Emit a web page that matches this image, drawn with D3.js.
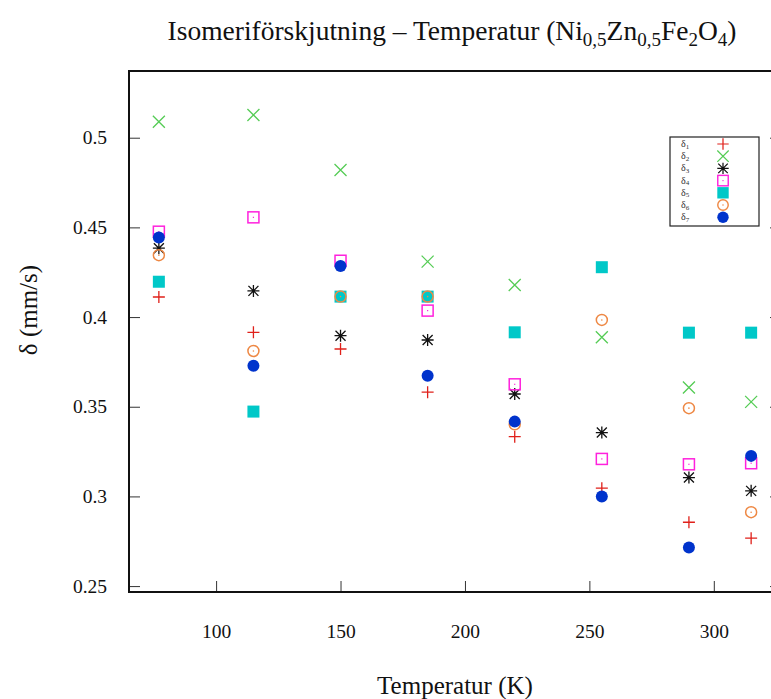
<!DOCTYPE html>
<html><head><meta charset="utf-8">
<script src="https://d3js.org/d3.v7.min.js"></script>
<style>body{margin:0;background:#fff}svg{display:block}</style>
</head><body>
<svg id="c" width="771" height="699"></svg>
<script>
const temps = [77, 115, 150, 185, 220, 255, 290, 315];
const d1 = [0.4112, 0.3915, 0.3822, 0.3581, 0.3333, 0.3046, 0.2856, 0.2767];
const d2 = [0.5089, 0.5127, 0.4820, 0.4309, 0.4179, 0.3887, 0.3607, 0.3527];
const d3v = [0.4384, 0.4146, 0.3896, 0.3872, 0.3571, 0.3356, 0.3105, 0.3031];
const d4 = [0.4476, 0.4556, 0.4314, 0.4036, 0.3625, 0.3209, 0.3179, 0.3185];
const d5 = [0.4197, 0.3473, 0.4114, 0.4114, 0.3915, 0.4278, 0.3913, 0.3913];
const d6 = [0.4345, 0.3811, 0.4114, 0.4114, 0.3402, 0.3984, 0.3492, 0.2912];
const d7 = [0.4443, 0.3729, 0.4285, 0.3673, 0.3417, 0.2999, 0.2715, 0.3226];
const seriesNames = ["1","2","3","4","5","6","7"];
const xTicks = [100, 150, 200, 250, 300];
const yTicks = [0.25, 0.3, 0.35, 0.4, 0.45, 0.5];

const series = [
  {name: seriesNames[0], vals: d1, sym: "plus",   color: "#e0201a"},
  {name: seriesNames[1], vals: d2, sym: "cross",  color: "#55cc55"},
  {name: seriesNames[2], vals: d3v, sym: "star",  color: "#111111"},
  {name: seriesNames[3], vals: d4, sym: "square", color: "#ff22dd"},
  {name: seriesNames[4], vals: d5, sym: "fsquare",color: "#00c8c8"},
  {name: seriesNames[5], vals: d6, sym: "circle", color: "#ee8844"},
  {name: seriesNames[6], vals: d7, sym: "fcircle",color: "#0033cc"}
];

const svg = d3.select("#c");
const L = 129, T = 71, B = 592, R = 781;
const x = d3.scaleLinear().domain([65, 327]).range([L, R]);
const y = d3.scaleLinear().domain([0.2467, 0.5372]).range([B, T]);
const serif = "'Liberation Serif','Times New Roman',serif";

// ticks
const gl = svg.append("g").attr("transform", `translate(${L},0)`)
  .call(d3.axisLeft(y).tickValues(yTicks).tickSizeInner(-11).tickSizeOuter(0).tickPadding(22).tickFormat(d3.format("")));
const gr = svg.append("g").attr("transform", `translate(${R},0)`)
  .call(d3.axisRight(y).tickValues(yTicks).tickSizeInner(-11).tickSizeOuter(0).tickFormat(""));
const gb = svg.append("g").attr("transform", `translate(0,${B})`)
  .call(d3.axisBottom(x).tickValues(xTicks).tickSizeInner(-11).tickSizeOuter(0).tickPadding(32));
[gl, gr, gb].forEach(g => {
  g.select(".domain").remove();
  g.selectAll(".tick line").attr("stroke", "#333").attr("stroke-width", 1);
  g.selectAll("text").attr("font-family", serif).attr("font-size", 19.5).attr("fill", "#111");
});

// border
svg.append("rect").attr("x", L).attr("y", T).attr("width", R - L).attr("height", B - T)
  .attr("fill", "none").attr("stroke", "#111").attr("stroke-width", 2);

function drawSym(g, sym, cx, cy, color) {
  const s = 6;
  if (sym === "plus") {
    g.append("path").attr("d", `M${cx-s},${cy}H${cx+s}M${cx},${cy-s}V${cy+s}`).attr("stroke", color).attr("stroke-width", 1.3).attr("fill", "none");
  } else if (sym === "cross") {
    g.append("path").attr("d", `M${cx-s},${cy-s}L${cx+s},${cy+s}M${cx-s},${cy+s}L${cx+s},${cy-s}`).attr("stroke", color).attr("stroke-width", 1.3).attr("fill", "none");
  } else if (sym === "star") {
    g.append("path").attr("d", `M${cx-s},${cy}H${cx+s}M${cx},${cy-s}V${cy+s}M${cx-s+1},${cy-s+1}L${cx+s-1},${cy+s-1}M${cx-s+1},${cy+s-1}L${cx+s-1},${cy-s+1}`).attr("stroke", color).attr("stroke-width", 1.3).attr("fill", "none");
  } else if (sym === "square") {
    g.append("rect").attr("x", cx-5.5).attr("y", cy-5.5).attr("width", 11).attr("height", 11).attr("fill", "none").attr("stroke", color).attr("stroke-width", 1.5);
    g.append("rect").attr("x", cx-0.6).attr("y", cy-0.6).attr("width", 1.2).attr("height", 1.2).attr("fill", color);
  } else if (sym === "fsquare") {
    g.append("rect").attr("x", cx-6).attr("y", cy-6).attr("width", 12).attr("height", 12).attr("fill", color);
  } else if (sym === "circle") {
    g.append("circle").attr("cx", cx).attr("cy", cy).attr("r", 5.5).attr("fill", "none").attr("stroke", color).attr("stroke-width", 1.5);
    g.append("circle").attr("cx", cx).attr("cy", cy).attr("r", 0.8).attr("fill", color);
  } else if (sym === "fcircle") {
    g.append("circle").attr("cx", cx).attr("cy", cy).attr("r", 6).attr("fill", color);
  }
}

const pts = svg.append("g");
series.forEach(s => {
  s.vals.forEach((v, i) => drawSym(pts, s.sym, x(temps[i]), y(v), s.color));
});

// legend
const lg = svg.append("g");
lg.append("rect").attr("x", 670).attr("y", 137).attr("width", 89).attr("height", 89)
  .attr("fill", "#fff").attr("stroke", "#222").attr("stroke-width", 1.2);
series.forEach((s, i) => {
  const cy = 144 + i * 12.2;
  const t = lg.append("text").attr("x", 681).attr("y", cy + 3).attr("font-family", serif).attr("font-size", 10).attr("fill", "#333");
  t.append("tspan").text("δ");
  t.append("tspan").attr("font-size", 7).attr("dy", 1.5).text(s.name);
  const gs = lg.append("g");
  drawSym(gs, s.sym, 723, cy, s.color);
  gs.attr("transform", `translate(723,${cy}) scale(0.95) translate(-723,${-cy})`);
});

// title
const title = svg.append("text").attr("x", 452).attr("y", 40).attr("text-anchor", "middle")
  .attr("font-family", serif).attr("font-size", 27.5).attr("fill", "#111");
title.append("tspan").text("Isomeriförskjutning – Temperatur (Ni");
title.append("tspan").attr("font-size", 19).attr("dy", 6).text("0,5");
title.append("tspan").attr("dy", -6).text("Zn");
title.append("tspan").attr("font-size", 19).attr("dy", 6).text("0,5");
title.append("tspan").attr("dy", -6).text("Fe");
title.append("tspan").attr("font-size", 19).attr("dy", 6).text("2");
title.append("tspan").attr("dy", -6).text("O");
title.append("tspan").attr("font-size", 19).attr("dy", 6).text("4");
title.append("tspan").attr("dy", -6).text(")");

// axis labels
svg.append("text").attr("x", 455).attr("y", 694).attr("text-anchor", "middle")
  .attr("font-family", serif).attr("font-size", 25).attr("fill", "#111").text("Temperatur (K)");
svg.append("text").attr("transform", "translate(37,310) rotate(-90)").attr("text-anchor", "middle")
  .attr("font-family", serif).attr("font-size", 25).attr("fill", "#111").text("δ (mm/s)");
</script>
</body></html>
